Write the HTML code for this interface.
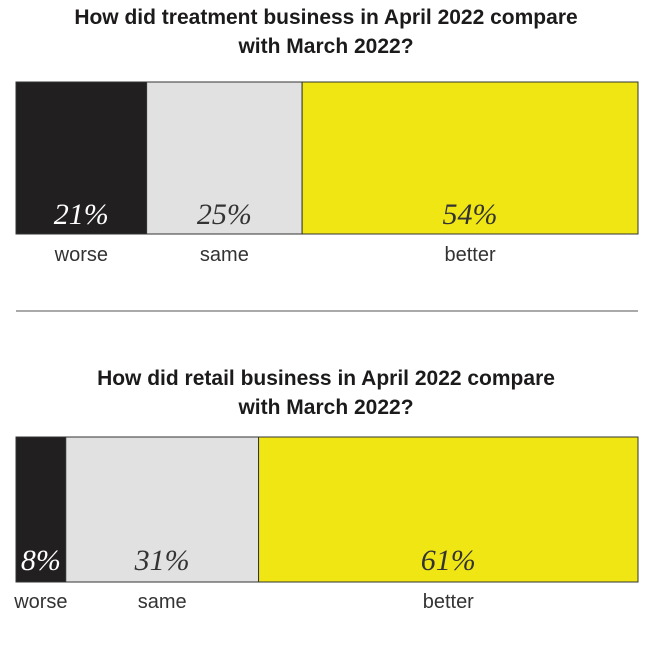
<!DOCTYPE html>
<html><head><meta charset="utf-8"><style>
body{margin:0;background:#fff;width:650px;height:647px;overflow:hidden}
svg{display:block}
</style></head><body>
<svg id="c" width="650" height="647">
<text x="326" y="24" text-anchor="middle" font-family="Liberation Sans, sans-serif" font-weight="bold" font-size="21" fill="#1c1a1b">How did treatment business in April 2022 compare</text>
<text x="326" y="53" text-anchor="middle" font-family="Liberation Sans, sans-serif" font-weight="bold" font-size="21" fill="#1c1a1b">with March 2022?</text>
<line x1="16" y1="311" x2="638" y2="311" stroke="#555" stroke-width="1"/>
<text x="326" y="385" text-anchor="middle" font-family="Liberation Sans, sans-serif" font-weight="bold" font-size="21" fill="#1c1a1b">How did retail business in April 2022 compare</text>
<text x="326" y="414" text-anchor="middle" font-family="Liberation Sans, sans-serif" font-weight="bold" font-size="21" fill="#1c1a1b">with March 2022?</text>
</svg>
<script>
const categories = ["worse","same","better"];
const treatmentValues = [21,25,54];
const retailValues = [8,31,61];
const colors = ["#221f20","#e1e1e1","#f0e614"];
const textColors = ["#fff","#333","#333"];
const svg = document.getElementById('c');
const NS = 'http://www.w3.org/2000/svg';
const x0 = 16, x1 = 638;
function xScale(v){ return x0 + (x1 - x0) * v / 100; }
function drawBar(values, top, bottom, pctY, labY, prefix){
  let acc = 0;
  values.forEach((v,i)=>{
    const xa = xScale(acc), xb = xScale(acc+v);
    const r = document.createElementNS(NS,'rect');
    r.setAttribute('x',xa); r.setAttribute('y',top);
    r.setAttribute('width',xb-xa); r.setAttribute('height',bottom-top);
    r.setAttribute('fill',colors[i]); r.setAttribute('stroke','#333'); r.setAttribute('stroke-width','1');
    
    
    svg.appendChild(r);
    const cx = (xa+xb)/2;
    const t = document.createElementNS(NS,'text');
    t.setAttribute('x',cx); t.setAttribute('y',pctY); t.setAttribute('text-anchor','middle');
    t.setAttribute('font-family','Liberation Serif, serif'); t.setAttribute('font-style','italic');
    t.setAttribute('font-size','30'); t.setAttribute('fill',textColors[i]);
    t.textContent = v+'%';
    
    
    svg.appendChild(t);
    const l = document.createElementNS(NS,'text');
    l.setAttribute('x',cx); l.setAttribute('y',labY); l.setAttribute('text-anchor','middle');
    l.setAttribute('font-family','Liberation Sans, sans-serif'); l.setAttribute('font-size','20');
    l.setAttribute('fill','#333');
    l.textContent = categories[i];
    
    
    svg.appendChild(l);
    acc += v;
  });
}
drawBar(treatmentValues, 82, 234, 224, 261, 'treatment');
drawBar(retailValues, 437, 582, 570, 608, 'retail');
</script>
</body></html>
